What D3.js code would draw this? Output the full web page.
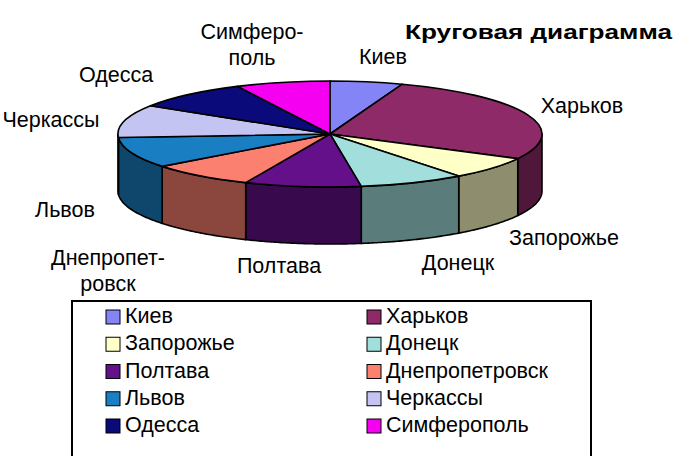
<!DOCTYPE html>
<html>
<head>
<meta charset="utf-8">
<script src="https://cdn.jsdelivr.net/npm/d3@7"></script>
<style>
  body { margin: 0; background: #fff; }
  text { font-family: 'Liberation Sans', Arial, sans-serif; }
</style>
</head>
<body>
<div id="chart"></div>
<script>
// данные диаграммы
const cities = ['Киев', 'Харьков', 'Запорожье', 'Донецк', 'Полтава',
  'Днепропетровск', 'Львов', 'Черкассы', 'Одесса', 'Симферополь']
const values = [20, 98, 25, 29, 32, 29, 34, 36, 32, 26]
const colors = ['#8484f6', '#8e2a68', '#ffffc8', '#a2dfdc', '#64108a',
  '#fb8070', '#1a7ec2', '#c4c4f2', '#0a0a7a', '#f600f2']

// подписи на диаграмме (переносы как в оригинале)
const labelLines = [['Киев'], ['Харьков'], ['Запорожье'], ['Донецк'], ['Полтава'],
  ['Днепропет-', 'ровск'], ['Львов'], ['Черкассы'], ['Одесса'], ['Симферо-', 'поль']]
// положение подписей (центр, базовая линия первой строки)
const labelAt = [[383, 64], [582, 113], [564, 245], [458, 270], [279, 273],
  [108, 265], [65, 217], [51, 127], [116, 82], [252, 39]]

const width = 694, height = 456
const cx = 330, cy = 134, rx = 212, ry = 53, depth = 57
const fontSize = 21.5

const svg = d3.select('#chart').append('svg')
  .attr('width', width).attr('height', height)

const pie = d3.pie().sort(null).value(d => d)
const slices = pie(values)

const g = svg.append('g').attr('transform', `translate(${cx}, ${cy})`)

/** боковые стенки (видна только передняя половина) */
const pt = (a, dy) => [rx * Math.sin(a), -ry * Math.cos(a) + dy]
const sideLine = d3.line()
slices.forEach((s, i) => {
  let a0 = Math.max(s.startAngle, Math.PI / 2)
  let a1 = Math.min(s.endAngle, 1.5 * Math.PI)
  if (a1 <= a0) return
  let angles = d3.range(a0, a1, 0.01).concat([a1])
  let top = angles.map(a => pt(a, 0))
  let bottom = angles.slice().reverse().map(a => pt(a, depth))
  g.append('path')
    .attr('d', sideLine(top.concat(bottom)) + 'Z')
    .attr('fill', d3.rgb(colors[i]).darker(1.65))
    .attr('stroke', '#000')
    .attr('stroke-width', 1.6)
    .attr('stroke-linejoin', 'round')
})

/** верхняя грань */
const topG = g.append('g').attr('transform', `scale(1, ${ry / rx})`)
const arc = d3.arc().innerRadius(0).outerRadius(rx)
topG.selectAll('path')
  .data(slices)
  .enter()
  .append('path')
  .attr('d', arc)
  .attr('fill', (d, i) => colors[i])
  .attr('stroke', '#000')
  .attr('stroke-width', 1.6)
  .attr('stroke-linejoin', 'round')
  .attr('vector-effect', 'non-scaling-stroke')

/** подписи */
labelLines.forEach((lines, i) => {
  let t = svg.append('text')
    .attr('x', labelAt[i][0]).attr('y', labelAt[i][1])
    .attr('text-anchor', 'middle')
    .attr('font-size', fontSize)
    .attr('fill', '#000')
  lines.forEach((l, k) => {
    t.append('tspan')
      .attr('x', labelAt[i][0])
      .attr('dy', k ? 26 : 0)
      .text(l)
  })
})

/** заголовок */
svg.append('text')
  .attr('x', 405).attr('y', 39)
  .attr('font-size', 21)
  .attr('font-weight', 'bold')
  .attr('textLength', 267)
  .attr('lengthAdjust', 'spacingAndGlyphs')
  .text('Круговая диаграмма')

/** легенда */
const legend = svg.append('g')
legend.append('rect')
  .attr('x', 72).attr('y', 301)
  .attr('width', 519).attr('height', 170)
  .attr('fill', '#fff')
  .attr('stroke', '#000')
  .attr('stroke-width', 2)

const colX = d3.scaleOrdinal().domain([0, 1]).range([106, 367])
const rowY = d3.scaleLinear().domain([0, 4]).range([323, 432])

cities.forEach((c, i) => {
  let x = colX(i % 2), y = rowY(Math.floor(i / 2))
  legend.append('rect')
    .attr('x', x).attr('y', y - 13)
    .attr('width', 14).attr('height', 14)
    .attr('fill', colors[i])
    .attr('stroke', '#000')
    .attr('stroke-width', 1)
  legend.append('text')
    .attr('x', x + 19).attr('y', y)
    .attr('font-size', fontSize)
    .text(c)
})
</script>
</body>
</html>
